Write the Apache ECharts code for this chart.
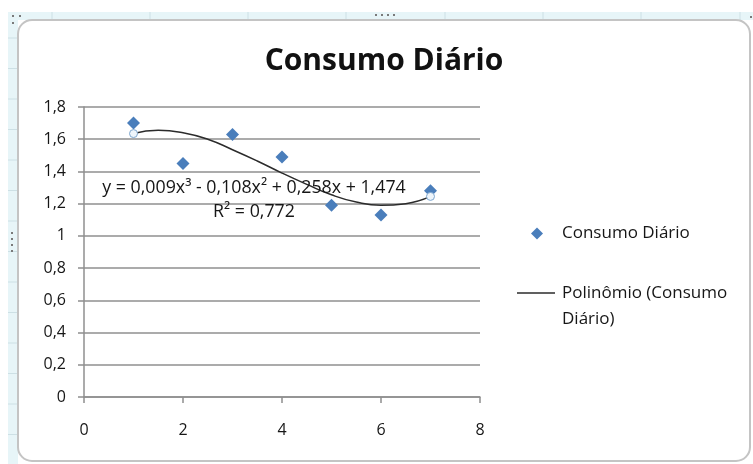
<!DOCTYPE html>
<html>
<head>
<meta charset="utf-8">
<script src="https://cdn.jsdelivr.net/npm/echarts@6/dist/echarts.min.js"></script>
<style>
  html, body { margin: 0; padding: 0; background: #ffffff; }
  #chart { width: 753px; height: 464px; }
</style>
</head>
<body>
<div id="chart"></div>
<script>
// Daily consumption per day, with the 3rd-order polynomial trendline
const days = [1, 2, 3, 4, 5, 6, 7];
const consumo = [1.70, 1.45, 1.63, 1.49, 1.19, 1.13, 1.28];

// Trendline sampled along x
const trendX = [1, 1.5, 2, 2.5, 3, 3.5, 4, 4.5, 5, 5.5, 6, 6.5, 7];
const trendY = [1.635, 1.655, 1.64, 1.60, 1.535, 1.465, 1.39, 1.32, 1.255, 1.21, 1.19, 1.20, 1.245];

const yTickLabels = ['0', '0,2', '0,4', '0,6', '0,8', '1', '1,2', '1,4', '1,6', '1,8'];
const xTickLabels = ['0', '2', '4', '6', '8'];

const titleText = 'Consumo Diário';
const seriesName = 'Consumo Diário';
const trendName = 'Polinômio (Consumo Diário)';
const equationText = 'y = 0,009x³ - 0,108x² + 0,258x + 1,474';
const r2Text = 'R² = 0,772';

const FONT = '"Open Sans", "Liberation Sans", sans-serif';
const TEXT = '#161616';
const GRID = '#8f8f8f';

const scatterData = days.map((d, i) => [d, consumo[i]]);
const trendData = trendX.map((x, i) => [x, trendY[i]]);
const trendEnds = [trendData[0], trendData[trendData.length - 1]];

// Sheet cell lines and selection handles around the chart frame
const deco = [];
deco.push({ type: 'rect', shape: { x: 8, y: 12, width: 745, height: 8 }, style: { fill: '#e7f5f8' }, z: 0 });
deco.push({ type: 'rect', shape: { x: 8, y: 12, width: 10, height: 452 }, style: { fill: '#e7f5f8' }, z: 0 });
[52, 150, 248, 346, 445, 543, 641, 740].forEach(x => {
  deco.push({ type: 'line', shape: { x1: x, y1: 12, x2: x, y2: 20 }, style: { stroke: '#cde0e5', lineWidth: 1 }, z: 1 });
});
[38, 68.5, 99, 129.5, 160, 190.5, 221, 251.5, 282, 312.5, 343, 373.5, 404, 434.5].forEach(y => {
  deco.push({ type: 'line', shape: { x1: 8, y1: y, x2: 18, y2: y }, style: { stroke: '#cde0e5', lineWidth: 1 }, z: 1 });
});
deco.push({ type: 'rect', shape: { x: 18, y: 20, width: 732, height: 441, r: 14 },
  style: { fill: null, stroke: '#c4c4c4', lineWidth: 2 }, z: 2 });
[[375, 14], [381, 14], [387, 14], [393, 14], [11, 232], [11, 238], [11, 244], [11, 250],
 [12, 15], [19, 15], [12, 22], [750, 16]].forEach(p => {
  deco.push({ type: 'rect', shape: { x: p[0], y: p[1], width: 2, height: 2 }, style: { fill: '#7a7a7a' }, z: 3 });
});
// Trendline equation and R²
deco.push({ type: 'text', x: 254, y: 188, z: 20,
  style: { text: equationText, align: 'center', verticalAlign: 'middle', font: '17.8px ' + FONT, fill: TEXT } });
deco.push({ type: 'text', x: 254, y: 212, z: 20,
  style: { text: r2Text, align: 'center', verticalAlign: 'middle', font: '17.8px ' + FONT, fill: TEXT } });

const chart = echarts.init(document.getElementById('chart'), null, { renderer: 'canvas' });
chart.setOption({
  animation: false,
  backgroundColor: '#ffffff',
  title: {
    text: titleText,
    left: 379,
    top: 41,
    textAlign: 'center',
    textStyle: { fontFamily: FONT, fontSize: 30, fontWeight: 'bold', color: '#111' }
  },
  grid: { left: 84, right: 273, top: 107, bottom: 67 },
  legend: [
    {
      data: [{ name: seriesName, icon: 'diamond' }],
      orient: 'vertical', left: 531, top: 225, padding: 0,
      itemWidth: 12, itemHeight: 12,
      textStyle: { fontFamily: FONT, fontSize: 17, color: TEXT, padding: [0, 0, 0, 14] }
    },
    {
      data: [{ name: trendName, icon: 'path://M0,0H38V1.6H0Z' }],
      orient: 'vertical', left: 517, top: 254, padding: 0,
      itemWidth: 38, itemHeight: 14,
      formatter: () => '\nPolinômio (Consumo\nDiário)',
      textStyle: { fontFamily: FONT, fontSize: 17, color: TEXT, lineHeight: 26, padding: [0, 0, 0, 2] }
    }
  ],
  xAxis: {
    type: 'value', min: 0, max: 8, interval: 2,
    axisLine: { show: true, lineStyle: { color: GRID, width: 1.5 } },
    axisTick: { show: true, inside: false, length: 6, lineStyle: { color: GRID, width: 1.5 } },
    splitLine: { show: false },
    axisLabel: {
      margin: 25, fontFamily: FONT, fontSize: 16, color: TEXT,
      formatter: (v, i) => xTickLabels[i]
    }
  },
  yAxis: {
    type: 'value', min: 0, max: 1.8, interval: 0.2,
    axisLine: { show: true, lineStyle: { color: GRID, width: 1.5 } },
    axisTick: { show: true, inside: false, length: 6, lineStyle: { color: GRID, width: 1.5 } },
    splitLine: { show: true, lineStyle: { color: GRID, width: 1.5 } },
    axisLabel: {
      margin: 18, fontFamily: FONT, fontSize: 16, color: TEXT,
      formatter: (v, i) => yTickLabels[i]
    }
  },
  graphic: { elements: deco },
  series: [
    {
      name: trendName,
      type: 'line',
      data: trendData,
      smooth: true,
      symbol: 'none',
      lineStyle: { color: '#2b2b2b', width: 1.5 },
      itemStyle: { color: '#2b2b2b' },
      z: 3
    },
    {
      name: seriesName,
      type: 'scatter',
      data: scatterData,
      symbol: 'diamond',
      symbolSize: 13,
      itemStyle: { color: '#4a7ebb', opacity: 1 },
      z: 4
    },
    {
      name: 'trendEnds',
      type: 'scatter',
      data: trendEnds,
      symbol: 'circle',
      symbolSize: 8,
      itemStyle: { color: '#eef5fb', borderColor: '#7ea7cf', borderWidth: 1, opacity: 1 },
      z: 5
    }
  ]
});
</script>
</body>
</html>
